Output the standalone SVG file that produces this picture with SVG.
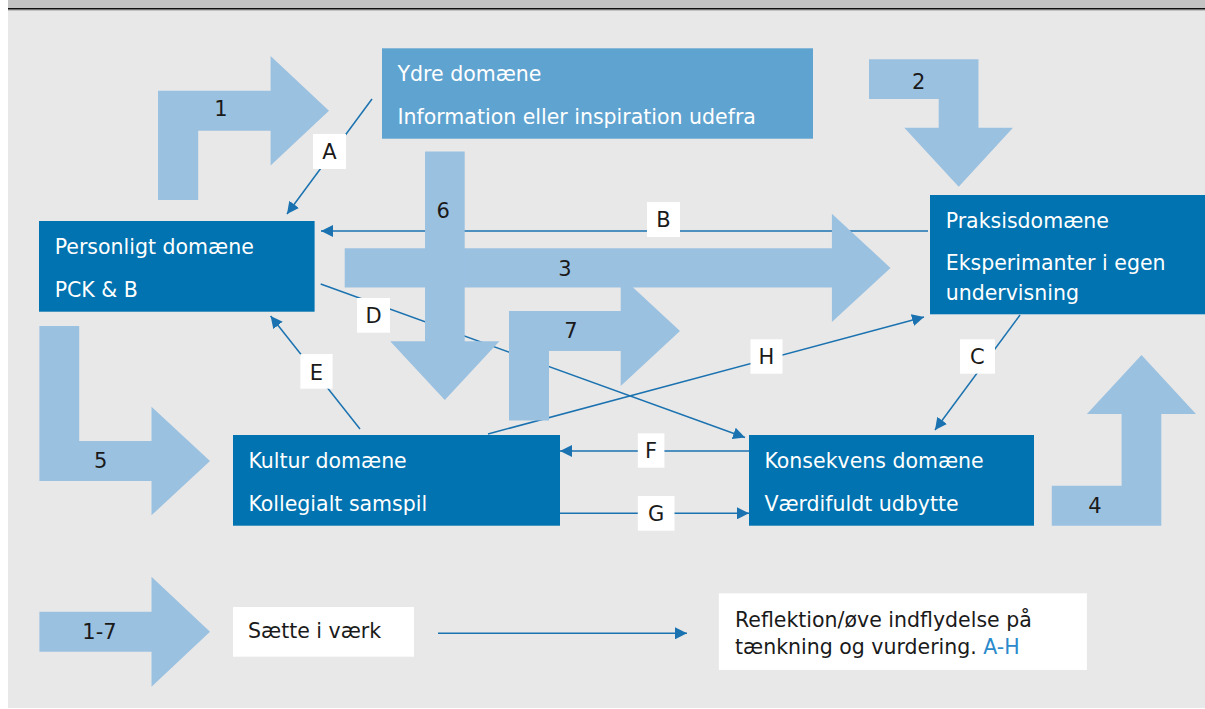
<svg xmlns="http://www.w3.org/2000/svg" width="1205" height="709" viewBox="0 0 1205 709">
<style>
.bg{fill:#e8e8e8}
.dom{fill:#0073b0}
.ydre{fill:#5fa3d0}
.big{fill:#9bc1e1}
.t{font-family:"DejaVu Sans","Liberation Sans",sans-serif;font-size:20.5px}
.w{fill:#ffffff}
.k{fill:#1a1a1a}
.num{font-family:"DejaVu Sans","Liberation Sans",sans-serif;font-size:21px;fill:#1a1a1a;text-anchor:middle}
.con{stroke:#1a72b0;stroke-width:1.5;fill:none}
.lbl{fill:#ffffff}
.wb{fill:#ffffff}
</style>
<defs>
<marker id="ah" viewBox="0 0 12 12" refX="12" refY="6" markerWidth="12" markerHeight="12" markerUnits="userSpaceOnUse" orient="auto"><path d="M0,0 L12,6 L0,12 z" fill="#1a72b0"/></marker>
</defs>
<rect x="0" y="0" width="1205" height="709" fill="#ffffff"/>
<rect x="8" y="0" width="1197" height="9" fill="#c4c4c4"/>
<rect x="8" y="9" width="1197" height="699" class="bg"/>
<rect x="8" y="8" width="1197" height="1.6" fill="#111111"/>
<rect x="8" y="9.6" width="1197" height="0.8" fill="#888888"/>

<g id="connectors">
<line class="con" x1="372" y1="99" x2="287" y2="214" marker-end="url(#ah)"/>
<line class="con" x1="928" y1="231" x2="321" y2="231" marker-end="url(#ah)"/>
<line class="con" x1="1020" y1="315" x2="935" y2="430" marker-end="url(#ah)"/>
<line class="con" x1="320.7" y1="284" x2="745" y2="437.5" marker-end="url(#ah)"/>
<line class="con" x1="360" y1="429" x2="270.6" y2="316" marker-end="url(#ah)"/>
<line class="con" x1="749" y1="451" x2="560" y2="451" marker-end="url(#ah)"/>
<line class="con" x1="560" y1="513.3" x2="749" y2="513.3" marker-end="url(#ah)"/>
<line class="con" x1="488" y1="434" x2="924" y2="317" marker-end="url(#ah)"/>
<line class="con" x1="438" y1="633.3" x2="687" y2="633.3" marker-end="url(#ah)"/>
<g id="label-A"><rect class="lbl" x="313" y="134" width="33" height="35"/><text class="num" x="329.5" y="159.3">A</text></g>
<g id="label-B"><rect class="lbl" x="647" y="202" width="33" height="35"/><text class="num" x="663.5" y="227">B</text></g>
<g id="label-C"><rect class="lbl" x="960" y="339.3" width="35" height="34.4"/><text class="num" x="977.3" y="364">C</text></g>
<g id="label-D"><rect class="lbl" x="357" y="298" width="33" height="34.7"/><text class="num" x="373.5" y="323">D</text></g>
<g id="label-E"><rect class="lbl" x="300.4" y="354" width="32.2" height="34.7"/><text class="num" x="316.5" y="380">E</text></g>
<g id="label-F"><rect class="lbl" x="637.8" y="433.3" width="26.6" height="34.4"/><text class="num" x="651.1" y="457.5">F</text></g>
<g id="label-G"><rect class="lbl" x="637.8" y="496" width="36.7" height="34.7"/><text class="num" x="656.2" y="521">G</text></g>
<g id="label-H"><rect class="lbl" x="750.5" y="339.3" width="32" height="34.4"/><text class="num" x="766.5" y="364">H</text></g>
</g>

<g id="flow-arrows">
<g id="arrow-1"><polygon class="big" points="158,200 158,90.7 270.6,90.7 270.6,56 329,110.7 270.6,165.4 270.6,130.7 198.2,130.7 198.2,200"/><text class="num" x="221" y="116.3">1</text></g>
<g id="arrow-2"><polygon class="big" points="869,59.3 978.5,59.3 978.5,127.7 1013,127.7 958.7,186.7 904.3,127.7 938.7,127.7 938.7,99 869,99"/><text class="num" x="918.7" y="88.5">2</text></g>
<g id="arrow-3"><polygon class="big" points="344.7,248.3 831.9,248.3 831.9,213.7 890.5,267.9 831.9,322.1 831.9,287.5 344.7,287.5"/><text class="num" x="565" y="276">3</text></g>
<g id="arrow-4"><polygon class="big" points="1051.8,485.7 1121.6,485.7 1121.6,414 1086.9,414 1141.5,355 1196,414 1161.3,414 1161.3,525.7 1051.8,525.7"/><text class="num" x="1095" y="513.3">4</text></g>
<g id="arrow-5"><polygon class="big" points="39.4,326 79.2,326 79.2,441 151.5,441 151.5,406.7 210,461 151.5,515.3 151.5,481 39.4,481"/><text class="num" x="100.6" y="468.3">5</text></g>
<g id="arrow-6"><polygon class="big" points="425,151.5 464.7,151.5 464.7,341.3 499.4,341.3 444.8,400 390.2,341.3 425,341.3"/><text class="num" x="443.3" y="218.3">6</text></g>
<g id="arrow-7"><polygon class="big" points="509,420.5 509,311 620.7,311 620.7,276 680,331 620.7,386 620.7,351 549,351 549,420.5"/><text class="num" x="571" y="337.5">7</text></g>
<g id="arrow-legend"><polygon class="big" points="39.4,611.7 151.5,611.7 151.5,576.7 210,631.7 151.5,686.7 151.5,651.7 39.4,651.7"/><text class="num" x="99.5" y="639.3">1-7</text></g>
</g>

<g id="node-ydre"><rect class="ydre" x="382" y="48.3" width="431" height="90.4"/><text class="t w" x="397.5" y="81">Ydre domæne</text><text class="t w" x="397.5" y="124.3">Information eller inspiration udefra</text></g>
<g id="node-personligt"><rect class="dom" x="39" y="221" width="275.6" height="90.7"/><text class="t w" x="54.7" y="254">Personligt domæne</text><text class="t w" x="54.7" y="296.7">PCK &amp; B</text></g>
<g id="node-praksis"><rect class="dom" x="930" y="195" width="275" height="119.3"/><text class="t w" x="945.7" y="228.3">Praksisdomæne</text><text class="t w" x="945.7" y="270">Eksperimanter i egen</text><text class="t w" x="945.7" y="300">undervisning</text></g>
<g id="node-kultur"><rect class="dom" x="233" y="435" width="327" height="90.7"/><text class="t w" x="248.4" y="467.7">Kultur domæne</text><text class="t w" x="248.4" y="511">Kollegialt samspil</text></g>
<g id="node-konsekvens"><rect class="dom" x="749" y="435" width="285" height="90.7"/><text class="t w" x="764.4" y="467.7">Konsekvens domæne</text><text class="t w" x="764.4" y="511">Værdifuldt udbytte</text></g>
<g id="legend-saette"><rect class="wb" x="233" y="607" width="181" height="49.7"/><text class="t k" x="248" y="638.3">Sætte i værk</text></g>
<g id="legend-reflektion"><rect class="wb" x="718.8" y="593.3" width="368.1" height="76.7"/><text class="t k" x="735" y="626.7">Reflektion/øve indflydelse på</text><text class="t k" x="735" y="654">tænkning og vurdering. <tspan fill="#2b8acb">A-H</tspan></text></g>
</svg>
